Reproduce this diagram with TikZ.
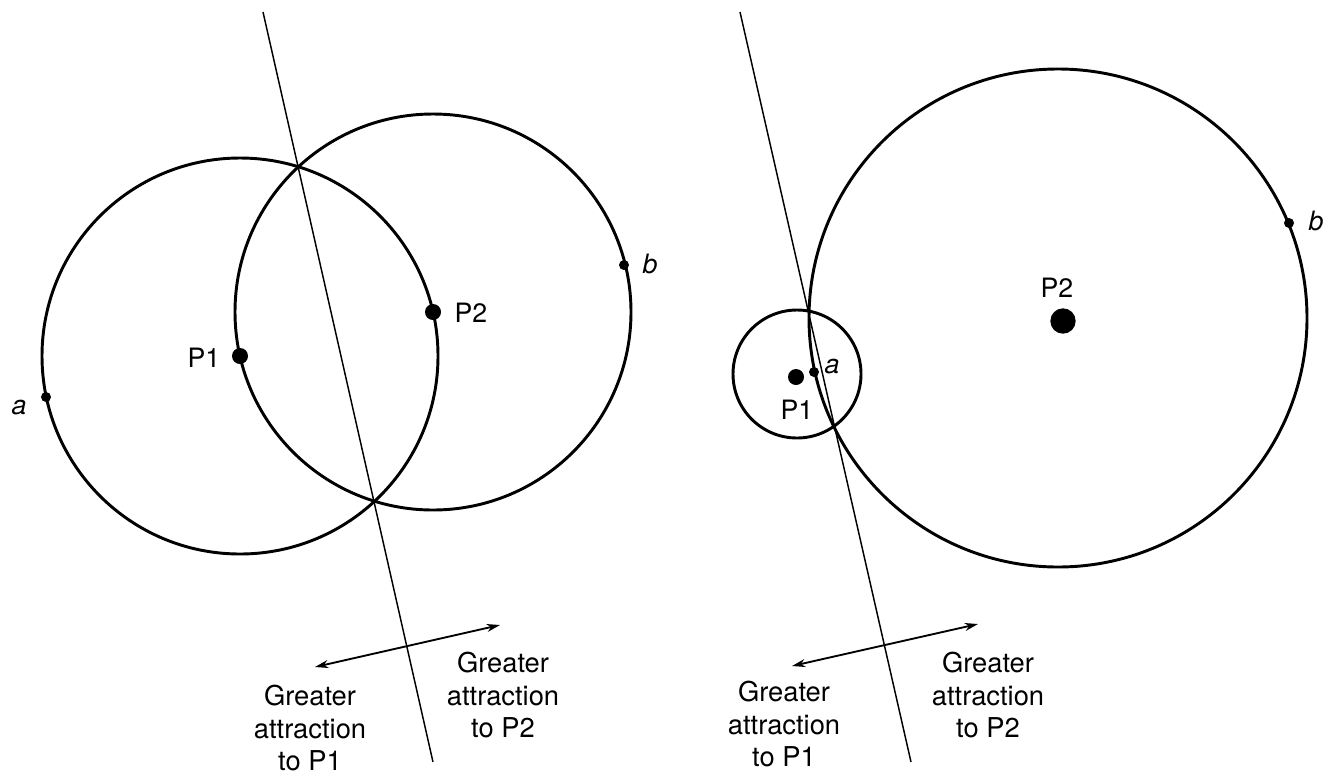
\documentclass[tikz,border=0pt]{standalone}
\usepackage{fontspec}
\setmainfont{TeX Gyre Heros}
\usetikzlibrary{arrows.meta}
\tikzset{every picture/.style={line width=0.75pt}}

\begin{document}
\begin{tikzpicture}[x=0.75pt,y=0.75pt,yscale=-1,xscale=1,
    ring/.style={line width=2.2pt},
    divider/.style={line width=1.1pt},
    twoway/.style={line width=1.4pt,{Stealth[length=10pt,width=6pt]}-{Stealth[length=10pt,width=6pt]}},
    dot/.style={circle,fill,inner sep=0pt,minimum size=#1},
    lbl/.style={font=\fontsize{20}{24.5}\selectfont},
    note/.style={font=\fontsize{20.5}{24.5}\selectfont,align=center}]
        \useasboundingbox (0,0) rectangle (1330,779);
        % left: two equal masses
        \draw [ring] (240,356) circle (198) ;
        \draw [ring] (433,312) circle (198) ;
        \coordinate (topL) at (263,12) ;
        \coordinate (botL) at (433,762) ;
        \draw [divider] (topL) -- (botL) ;
        \node [dot=12pt] (P1L) at (240,356) {} ;
        \node [dot=12pt] (P2L) at (433,312) {} ;
        \node [dot=7.5pt] (aL) at (46,397) {} ;
        \node [dot=7.5pt] (bL) at (624,265) {} ;
        \draw (204,358) node [lbl] {P1} ;
        \draw (471,313) node [lbl] {P2} ;
        \draw (19,408) node [lbl] {\itshape a} ;
        \draw (650,264) node [lbl] {\itshape b} ;
        \coordinate (towardP1L) at (315,667) ;
        \coordinate (towardP2L) at (500,625) ;
        \draw [twoway] (towardP1L) -- (towardP2L) ;
        \draw (310,728) node [note] {Greater\\attraction\\to P1} ;
        \draw (503,695) node [note] {Greater\\attraction\\to P2} ;
        % right: small mass and large mass
        \draw [ring] (797,374) circle (64) ;
        \draw [ring] (1058,318) circle (249) ;
        \coordinate (topR) at (740,12) ;
        \coordinate (botR) at (911,762) ;
        \draw [divider] (topR) -- (botR) ;
        \node [dot=12pt] (P1R) at (796,377) {} ;
        \node [dot=19pt] (P2R) at (1063,321) {} ;
        \node [dot=7.5pt] (aR) at (814,372) {} ;
        \node [dot=7.5pt] (bR) at (1289,223) {} ;
        \draw (797,410) node [lbl] {P1} ;
        \draw (1057,288) node [lbl] {P2} ;
        \draw (832,367) node [lbl] {\itshape a} ;
        \draw (1316,221) node [lbl] {\itshape b} ;
        \coordinate (towardP1R) at (792,666) ;
        \coordinate (towardP2R) at (978,624) ;
        \draw [twoway] (towardP1R) -- (towardP2R) ;
        \draw (784,724) node [note] {Greater\\attraction\\to P1} ;
        \draw (988,695) node [note] {Greater\\attraction\\to P2} ;
\end{tikzpicture}
\end{document}
